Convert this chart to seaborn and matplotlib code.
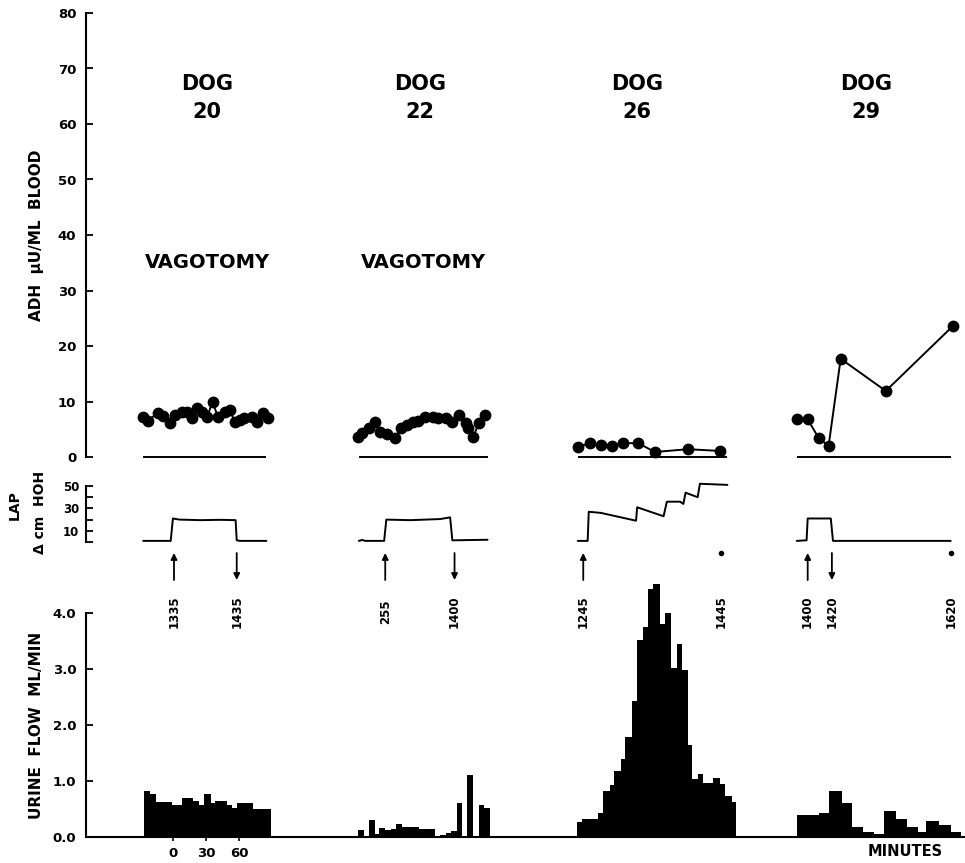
import matplotlib
matplotlib.use("Agg")
import matplotlib.pyplot as plt
import matplotlib.transforms as mtransforms
import numpy as np
import pandas as pd
import seaborn as sns

# times are minutes, local to each dog (0 = first arrow, start of LAP rise)
dogs = ["20", "22", "26", "29"]
dog_offset = [79, 272, 455, 656]          # where each dog sits on the shared time axis

# ADH  (microU / ml blood)
adh20_t = [-27, -23, -14, -9, -3, 2, 8, 13, 17, 22, 26, 31, 36, 41, 47, 52, 56, 61, 65, 72, 76, 82, 86]
adh20 = [7.2, 6.5, 7.9, 7.4, 6.1, 7.6, 8.1, 8.1, 7.0, 8.8, 8.1, 7.2, 9.9, 7.2, 8.1, 8.5, 6.3, 6.7, 7.0, 7.2, 6.3, 7.9, 7.0]
adh22_t = [-25, -21, -15, -9, -5, 2, 9, 14, 20, 25, 30, 36, 43, 48, 55, 61, 67, 73, 75, 80, 85, 91]
adh22 = [3.6, 4.3, 5.2, 6.3, 4.5, 4.1, 3.4, 5.2, 5.8, 6.3, 6.5, 7.2, 7.2, 7.0, 7.0, 6.3, 7.6, 6.1, 5.2, 3.6, 6.1, 7.6]
adh26_t = [-8, 3, 13, 23, 33, 47, 62, 92, 121]
adh26 = [1.8, 2.5, 2.2, 2.0, 2.5, 2.5, 0.9, 1.4, 1.1]
adh29_t = [-10, 0, 10, 19, 30, 71, 132]
adh29 = [6.8, 6.8, 3.4, 2.0, 17.7, 11.9, 23.6]

# LAP  (delta cm H2O)
lap20_t = [-27, -2, 0, 6, 25, 43, 57, 58, 61, 85]
lap20 = [1, 1, 21, 20, 19.5, 19.8, 19.5, 1.5, 1, 1]
lap22_t = [-24, -21, -18, -1, 1, 23, 50, 59, 61, 93]
lap22 = [1, 1.8, 1, 1, 20, 19.5, 20.5, 22, 1.5, 2]
lap26_t = [-8, 1, 2, 13, 45, 46, 70, 73, 85, 88, 90, 101, 103, 128]
lap26 = [1, 1, 27, 26, 19, 31, 23, 36, 36, 34, 44, 40, 52, 51]
lap29_t = [-10, -1, 0, 7, 21, 23, 130]
lap29 = [1, 1.5, 21, 21, 21, 1, 1]

# urine flow (ml/min), collection periods given by bin edges
uf20_edges = [-26, -21, -15, -1, 8, 18, 24, 28, 35, 38, 49, 54, 58, 73, 89]
uf20 = [0.82, 0.77, 0.63, 0.57, 0.70, 0.64, 0.57, 0.77, 0.60, 0.65, 0.57, 0.52, 0.61, 0.50]
uf22_edges = [-25, -19, -15, -9, -6, 0, 5, 10, 15, 19, 31, 45, 50, 55, 60, 65, 70, 74, 80, 85, 90, 95]
uf22 = [0.13, 0, 0.30, 0.06, 0.155, 0.12, 0.14, 0.24, 0.17, 0.18, 0.14, 0.01, 0.04, 0.07, 0.10, 0.60, 0, 1.11, 0, 0.57, 0.52]
uf26_edges = [-9, -4, 10, 15, 21, 25, 31, 35, 41, 46, 51, 56, 60, 67, 71, 77, 82, 87, 92, 96, 101, 106, 115, 121, 126, 132, 136]
uf26 = [0.26, 0.32, 0.42, 0.82, 0.92, 1.17, 1.40, 1.79, 2.42, 3.52, 3.75, 4.42, 4.52, 3.81, 4.0, 3.02, 3.45, 2.98, 1.65, 1.03, 1.12, 0.97, 1.06, 0.95, 0.73, 0.62]
uf29_edges = [-10, 0, 10, 19, 31, 40, 50, 60, 69, 80, 90, 100, 108, 119, 130, 139]
uf29 = [0.39, 0.39, 0.43, 0.82, 0.61, 0.18, 0.09, 0.06, 0.46, 0.33, 0.17, 0.09, 0.28, 0.21, 0.09]

# clock times marked under the LAP traces
mark20_t, mark20_lbl, mark20_kind = [1, 58], ["1335", "1435"], ["up", "down"]
mark22_t, mark22_lbl, mark22_kind = [0, 63], ["255", "1400"], ["up", "down"]
mark26_t, mark26_lbl, mark26_kind = [-3, 122], ["1245", "1445"], ["up", "dot"]
mark29_t, mark29_lbl, mark29_kind = [0, 22, 130], ["1400", "1420", "1620"], ["up", "down", "dot"]

vagotomy_dogs = ["20", "22"]
minute_ticks = [0, 30, 60]   # under dog 20

adh_t = [adh20_t, adh22_t, adh26_t, adh29_t]
adh = [adh20, adh22, adh26, adh29]
lap_t = [lap20_t, lap22_t, lap26_t, lap29_t]
lap = [lap20, lap22, lap26, lap29]
uf_edges = [uf20_edges, uf22_edges, uf26_edges, uf29_edges]
uf = [uf20, uf22, uf26, uf29]
marks = [(mark20_t, mark20_lbl, mark20_kind), (mark22_t, mark22_lbl, mark22_kind),
         (mark26_t, mark26_lbl, mark26_kind), (mark29_t, mark29_lbl, mark29_kind)]

sns.set_style("ticks")
plt.rcParams["font.family"] = ["DejaVu Sans"]
plt.rcParams["font.weight"] = "bold"
for k in ("text.color", "axes.labelcolor", "xtick.color", "ytick.color", "axes.edgecolor"):
    plt.rcParams[k] = "black"

W, H = 965, 863
fig = plt.figure(figsize=(W / 100, H / 100), dpi=100)


def box(top, bottom, left=86, right=965):
    return [left / W, 1 - bottom / H, (right - left) / W, (bottom - top) / H]


ax_adh = fig.add_axes(box(13, 457))
ax_lap = fig.add_axes(box(486, 542))
ax_uf = fig.add_axes(box(613, 837))
XMAX = 799
for ax in (ax_adh, ax_lap, ax_uf):
    ax.set_facecolor("none")

for i, d in enumerate(dogs):
    off = dog_offset[i]
    # ADH points
    sns.lineplot(x=np.array(adh_t[i]) + off, y=adh[i], ax=ax_adh, color="black",
                 marker="o", markersize=8.5, linewidth=1.4, markeredgewidth=0,
                 estimator=None, sort=False, clip_on=False)
    ax_adh.hlines(0, lap_t[i][0] + off, lap_t[i][-1] + off, color="black", lw=1.4, clip_on=False)
    # LAP trace
    sns.lineplot(x=np.array(lap_t[i]) + off, y=lap[i], ax=ax_lap, color="black",
                 linewidth=1.4, estimator=None, sort=False, clip_on=False)
    # urine flow bars
    e = np.array(uf_edges[i], dtype=float) + off
    df = pd.DataFrame({"t": (e[:-1] + e[1:]) / 2, "flow": uf[i]})
    sns.histplot(data=df, x="t", weights="flow", bins=list(e), ax=ax_uf, color="black",
                 alpha=1, linewidth=0, element="bars", fill=True)

for p in ax_uf.patches:
    p.set_clip_on(False)

# ADH axis
ax_adh.set_xlim(0, XMAX)
ax_adh.set_ylim(0, 80)
ax_adh.set_yticks(range(0, 81, 10))
ax_adh.set_xticks([])
sns.despine(ax=ax_adh, bottom=True)
ax_adh.set_xlabel("")
ax_adh.set_ylabel("")

# LAP axis
ax_lap.set_xlim(0, XMAX)
ax_lap.set_ylim(0, 50)
ax_lap.set_yticks([0, 10, 20, 30, 40, 50])
ax_lap.set_yticklabels(["", "10", "", "30", "", "50"])
ax_lap.set_xticks([])
sns.despine(ax=ax_lap, bottom=True)
ax_lap.set_xlabel("")
ax_lap.set_ylabel("")

# urine axis
ax_uf.set_xlim(0, XMAX)
ax_uf.set_ylim(0, 4)
ax_uf.set_yticks([0, 1, 2, 3, 4])
ax_uf.set_yticklabels(["0.0", "1.0", "2.0", "3.0", "4.0"])
ax_uf.set_xticks(np.array(minute_ticks) + dog_offset[0])
ax_uf.set_xticklabels([str(m) for m in minute_ticks])
sns.despine(ax=ax_uf)
ax_uf.set_xlabel("")
ax_uf.set_ylabel("")

for ax in (ax_adh, ax_lap, ax_uf):
    for s in ax.spines.values():
        s.set_linewidth(1.5)
    ax.tick_params(axis="y", direction="in", length=5, width=1.3, labelsize=9.5, pad=7)
ax_lap.tick_params(axis="y", labelsize=8.5, pad=5)
ax_uf.tick_params(axis="x", direction="out", length=3, width=1.2, labelsize=9.5, pad=4)

# arrows / clock times below LAP
tr = mtransforms.blended_transform_factory(ax_lap.transData, fig.transFigure)
y_top, y_bot, y_lbl = 1 - 553 / H, 1 - 580 / H, 1 - 612 / H
for i, (mt, ml, mk) in enumerate(marks):
    off = dog_offset[i]
    for t, lbl, kind in zip(mt, ml, mk):
        x = t + off
        if kind == "up":
            ax_lap.annotate("", xy=(x, y_top), xytext=(x, y_bot), xycoords=tr, textcoords=tr,
                            arrowprops=dict(arrowstyle="-|>", color="black", lw=1.3,
                                            mutation_scale=9, shrinkA=0, shrinkB=0))
        elif kind == "down":
            ax_lap.annotate("", xy=(x, y_bot), xytext=(x, y_top), xycoords=tr, textcoords=tr,
                            arrowprops=dict(arrowstyle="-|>", color="black", lw=1.3,
                                            mutation_scale=9, shrinkA=0, shrinkB=0))
        else:
            ax_lap.plot([x], [y_top], "o", color="black", ms=3, transform=tr, clip_on=False)
        ax_lap.text(x, y_lbl, lbl, transform=tr, rotation=90, ha="center", va="center",
                    fontsize=8.5, clip_on=False)

# dog titles
title_x = [207, 420, 637, 866]
for d, px in zip(dogs, title_x):
    fig.text(px / W, 1 - 84 / H, "DOG", ha="center", va="center", fontsize=15)
    fig.text(px / W, 1 - 112 / H, d, ha="center", va="center", fontsize=15)
vag_x = [207, 423]
for d, px in zip(vagotomy_dogs, vag_x):
    fig.text(px / W, 1 - 262 / H, "VAGOTOMY", ha="center", va="center", fontsize=14)

# axis titles
fig.text(37 / W, 1 - 235 / H, "ADH  \u03bcU/ML  BLOOD", rotation=90, ha="center", va="center", fontsize=11)
fig.text(15 / W, 1 - 505 / H, "LAP", rotation=90, ha="center", va="center", fontsize=10)
fig.text(40 / W, 1 - 512 / H, "\u0394 cm  HOH", rotation=90, ha="center", va="center", fontsize=10)
fig.text(37 / W, 1 - 725 / H, "URINE  FLOW  ML/MIN", rotation=90, ha="center", va="center", fontsize=11)
fig.text(905 / W, 1 - 851 / H, "MINUTES", ha="center", va="center", fontsize=10.5)

fig.savefig("out.png", dpi=100)
